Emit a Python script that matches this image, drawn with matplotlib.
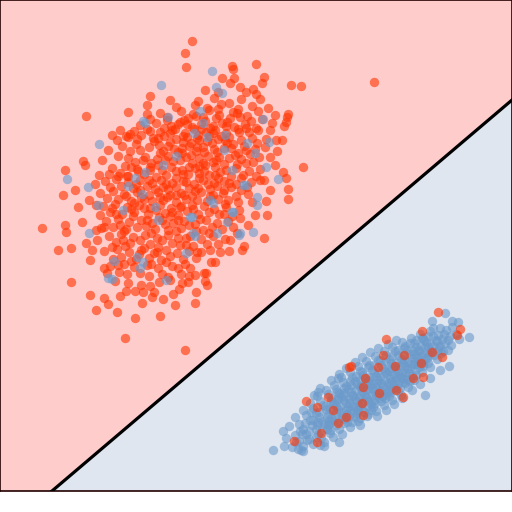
import matplotlib
matplotlib.use("Agg")
import matplotlib.pyplot as plt
import numpy as np

# ---------------- data (pixel-like units) ----------------
# class A (red) points lying in the upper-left cluster
red_cluster_red = [
    (192,41),(185,53),(186,67),(232,66),(233,69),(256,64),(222,78),(234,78),(230,83),(264,77),
    (262,83),(291,85),(301,86),(374,82),(218,92),(246,92),(253,89),(256,94),(260,99),(86,116),
    (128,112),(147,105),(268,108),(288,114),(287,117),(275,115),(272,123),(284,126),(286,122),
    (112,135),(126,136),(130,134),(65,170),(83,161),(85,165),(63,195),(95,184),(99,175),(118,176),
    (277,151),(266,139),(270,157),(283,172),(286,178),(288,189),(288,199),(89,200),(303,167),
    (42,228),(65,225),(66,232),(58,250),(71,248),(71,282),(90,295),(96,310),(104,298),(108,304),
    (125,338),(185,350),(195,303),(163,299),(152,297),(173,294),(120,296),(126,291),(150,286),
    (159,282),(168,277),(195,275),(206,273),(207,285),(205,281),(182,283),(181,274),(189,276),
    (86,243),(92,250),(90,260),(96,230),(101,228),(104,268),(107,273),(264,238),(267,215),
    (266,201),(244,246),(242,250),(229,251),(220,252),(210,250),(201,252),(204,273),
    (198,101),(214,98),(229,103),(241,99),
    (176,107),(195,105),(207,108),(221,104),(238,109),(252,106),
    (160,113),(181,111),(193,114),(209,110),(219,115),(233,112),(247,116),(258,111),
    (150,119),(167,117),(184,120),(196,116),(205,121),(216,118),(227,122),(240,117),(251,121),(262,119),
    (140,125),(156,123),(171,126),(180,122),(192,127),(201,124),(213,126),(222,123),(234,127),(245,124),(256,128),(175,129),
    (134,131),(147,129),(160,132),(172,130),(185,133),(194,129),(206,132),(215,130),(226,133),(238,129),(249,132),(258,130),(198,135),(221,136),
    (128,137),(141,135),(153,138),(164,136),(176,139),(187,137),(199,140),(209,136),(218,139),(229,137),(241,140),(252,138),(170,142),(191,143),(212,143),(233,144),
    (122,146),(136,144),(149,147),(159,145),(182,148),(203,147),(224,148),(244,146),(255,149),(265,147),(140,150),(163,151),(178,152),(196,151),(217,152),(238,153),(250,154),
    (118,156),(128,158),(145,157),(157,159),(168,156),(186,157),(199,158),(208,156),(229,158),(241,159),(259,157),(135,162),(151,163),(173,161),(192,163),(213,162),(224,164),(246,163),
    (112,168),(125,166),(137,169),(150,167),(162,170),(171,167),(182,170),(195,168),(204,171),(215,167),(226,170),(236,168),(249,171),(260,169),(120,173),(144,174),(166,175),(188,174),(209,175),(231,176),
    (105,181),(116,179),(128,182),(140,180),(152,183),(161,180),(172,183),(183,181),(194,184),(203,180),(214,183),(224,181),(236,184),(251,182),(264,180),(110,187),(133,188),(147,186),(168,189),(189,188),(210,189),(231,187),
    (100,193),(113,191),(124,194),(137,192),(149,195),(158,192),(170,195),(181,193),(192,196),(201,192),(213,195),(223,193),(236,196),(248,194),(118,199),(131,201),(144,199),(163,200),(176,202),(186,199),(207,201),(228,200),
    (103,206),(115,204),(127,207),(139,205),(150,208),(160,205),(171,208),(181,206),(193,209),(204,206),(214,209),(226,207),(239,210),(110,212),(122,214),(134,212),(148,214),(165,213),(178,215),(198,214),(219,214),(232,216),
    (106,221),(118,219),(129,222),(141,220),(152,223),(162,220),(173,223),(184,221),(195,224),(206,220),(217,223),(228,221),(113,227),(126,229),(137,227),(155,229),(168,230),(181,228),(203,230),(222,229),
    (109,236),(121,234),(133,237),(145,235),(157,238),(168,235),(178,238),(190,236),(201,239),(213,236),(225,239),(116,242),(130,243),(150,244),(172,243),(186,245),(207,244),
    (104,251),(117,249),(129,252),(141,250),(154,253),(166,250),(177,253),(189,251),(121,257),(136,259),(149,258),(161,260),(183,259),(196,258),
    (110,266),(124,264),(134,267),(147,265),(158,268),(172,266),(185,264),(119,272),(140,273),(162,274),
    (115,281),(128,283),(141,285),(135,291),(179,289),(196,292),
    (100,215),(97,240),(78,207),(82,222),(75,190),(102,160),(108,150),(117,140),(270,130),(275,165),
    (270,190),(255,215),(248,225),(276,140),(230,240),(215,262),(190,268),(154,292),(142,303),(117,312),
    (135,318),(160,316),(175,305),(211,262),(120,130),(150,96),(170,100),(240,87),(205,90),(282,140),
    (188,118),(203,117),(178,124),(164,128),(226,126),(239,132),(213,133),(183,136),(197,138),(168,146),
    (154,141),(189,146),(207,141),(227,143),(246,150),(174,149),(160,153),(191,155),(204,152),(219,157),
    (235,155),(130,151),(143,160),(165,160),(180,160),(203,163),(216,160),(237,164),(253,162),(131,167),
    (158,165),(176,171),(189,167),(199,173),(220,172),(243,175),(127,176),(136,184),(156,177),(176,178),
    (186,182),(199,178),(218,178),(241,178),(256,176),(121,186),(140,190),(155,189),(176,187),(198,188),
    (217,186),(224,190),(241,190),(107,198),(126,196),(141,197),(152,201),(167,197),(184,195),(197,200),
    (218,199),(238,202),(112,208),(131,209),(144,208),(156,210),(170,216),(187,211),(209,212),(224,214),
    (120,225),(133,216),(147,220),(159,217),(178,220),(189,225),(200,219),(212,227),(233,227),(124,231),
    (140,240),(151,233),(162,240),(176,231),(196,231),(209,233),(218,244),(112,247),(125,246),(144,248),
    (158,247),(170,256),(180,245),(193,246),(131,261),(151,264),(166,262),(178,268),(127,274),(149,276),
    (170,280),(113,259),(188,282),(143,292),
    (187,124),(210,128),(230,118),(246,128),(170,133),(150,131),(225,140),(197,147),(214,149),(182,153),
    (158,138),(137,139),(138,171),(149,180),(166,184),(183,174),(208,184),(229,183),(247,187),(195,191),
    (180,207),(160,197),(146,226),(165,224),(186,238),(197,252),(210,196),(225,204),(240,218),(134,203),
    (123,240),(139,254),(157,252),(172,212),(199,166),(215,175),(163,187),(150,170),(176,195),(192,205),
    (205,165),(231,148),(183,142),(167,120),(218,109),(201,129),(237,113),(147,114),(257,143),(260,180),
    (252,202),(237,233),(118,265),(128,176),(116,214),(104,227),(96,205),(109,174),
]

# class B (blue) points lying in the upper-left cluster
red_cluster_blue = [
    (212,71),(161,85),(216,87),(222,93),(263,119),(99,144),(67,179),(88,187),(269,142),(266,167),
    (278,179),(257,205),(98,205),(89,233),(114,261),(108,278),(112,279),(253,232),(239,235),
    (145,123),(194,133),(207,137),(225,135),(224,150),(247,143),(255,153),(163,165),(145,172),(135,178),
    (232,170),(246,185),(257,197),(210,200),(155,207),(158,220),(192,217),(232,212),(240,233),(193,233),
    (137,257),(123,210),(203,123),(143,121),(168,117),(200,111),(176,156),(213,203),(128,186),(142,194),
    (190,217),(195,236),(143,262),(140,268),(186,253),(166,280),(217,233),(227,222),(233,212),(243,185),
]

# class B (blue) points lying in the lower-right cluster
blue_cluster_blue = [
    (273,450),(283,431),(298,449),(301,450),(303,451),(324,446),(339,442),(314,395),(320,388),(318,392),
    (338,378),(445,313),(432,321),(452,321),(458,322),(469,337),(449,366),(425,395),
    (286,438),(292,447),(284,446),
    (289,426),(295,435),(299,441),(303,446),(300,431),
    (295,417),(299,424),(303,429),(306,434),(309,439),(313,444),(302,434),
    (303,410),(306,415),(310,420),(312,425),(316,429),(318,434),(321,438),(324,442),(317,425),
    (310,403),(313,408),(316,413),(319,417),(322,421),(324,424),(327,429),(330,433),(333,437),(318,422),(329,424),
    (317,396),(320,401),(323,405),(326,409),(328,414),(331,418),(333,421),(336,425),(339,429),(342,434),(330,409),(329,421),(338,421),
    (326,390),(328,394),(331,398),(334,403),(336,406),(338,409),(341,412),(343,416),(345,419),(347,422),(350,427),(337,400),(336,412),(347,414),
    (334,385),(336,389),(339,393),(341,397),(344,400),(346,403),(348,407),(350,410),(353,413),(355,417),(358,421),(360,425),(344,393),(346,410),(357,410),
    (341,377),(343,382),(346,386),(348,389),(351,392),(353,396),(355,399),(357,402),(359,406),(362,409),(364,412),(367,416),(349,399),(359,398),(358,410),(351,385),
    (350,372),(352,377),(355,381),(357,384),(360,387),(362,391),(364,394),(366,397),(368,401),(371,404),(373,407),(376,411),(361,386),(364,401),(375,403),(360,395),
    (358,366),(360,371),(363,375),(365,378),(368,381),(370,385),(372,388),(374,391),(376,395),(379,398),(381,401),(384,405),(369,380),(372,395),(383,396),(368,389),
    (366,361),(369,365),(372,370),(374,373),(376,376),(378,380),(381,383),(383,386),(385,389),(387,393),(389,396),(392,400),(378,373),(381,390),(391,392),(377,383),
    (375,356),(378,360),(381,365),(383,368),(385,371),(387,374),(390,378),(392,381),(394,384),(396,388),(398,391),(401,395),(389,371),(390,385),(398,384),
    (384,351),(386,355),(389,359),(391,363),(394,366),(396,369),(398,373),(400,376),(403,379),(405,383),(408,387),(396,363),(396,377),(407,379),
    (392,347),(395,351),(398,355),(401,359),(403,363),(405,366),(407,369),(409,373),(412,376),(414,380),(403,356),(405,373),(416,375),
    (402,342),(405,346),(407,350),(410,354),(412,358),(415,361),(417,364),(419,367),(422,372),(414,354),(412,364),(423,366),
    (411,338),(414,343),(416,347),(419,351),(422,355),(425,359),(428,363),(430,367),(421,346),(423,363),
    (420,334),(423,338),(426,342),(428,347),(431,351),(434,355),(437,359),(430,344),(429,355),
    (430,331),(433,336),(437,341),(440,346),(443,351),(438,335),(438,350),
    (440,328),(444,334),(448,340),(451,345),(450,336),
    (452,327),(456,334),(459,339),
    (333,404),(338,398),(343,395),(349,403),(352,395),(356,390),(360,380),(365,384),(366,389),(370,377),
    (373,383),(376,387),(380,377),(384,380),(386,372),(388,383),(392,368),(394,374),(396,380),(400,366),
    (402,372),(404,360),(408,362),(410,368),(413,351),(417,357),(418,350),(425,347),(427,352),(433,346),
    (436,340),(442,339),(445,343),(424,340),(419,362),(410,381),(400,388),(389,391),(382,396),(374,400),
    (368,406),(361,404),(355,407),(349,416),(342,418),(335,416),(328,425),(322,430),(316,437),(309,431),
    (313,420),(319,412),(325,406),(331,401),(337,392),(344,388),(350,381),(356,376),(362,372),(368,367),
    (374,365),(380,360),(386,362),(392,356),(398,350),(404,348),(410,343),(416,340),(422,338),(428,336),
    (433,328),(446,330),(448,350),(441,353),(427,358),(415,370),(403,382),(393,388),(385,398),(371,410),
    (357,413),(344,423),(330,430),(320,445),(307,440),(296,442),(305,423),(311,412),(327,417),(340,406),
    (353,406),(367,398),(379,392),(391,382),(402,378),(414,364),(421,356),(431,352),(439,347),
    (377,416),(368,414),(386,410),(394,404),(360,418),(352,422),(370,352),(378,348),(362,357),(355,362),
    (346,368),(339,374),(331,380),(402,398),(412,390),(420,384),(430,378),(440,370),(388,344),(396,340),
]

# class A (red) points lying in the lower-right cluster
blue_cluster_red = [
    (294,441),(317,442),(306,401),(351,366),(438,312),(460,329),(457,335),(386,339),(422,331),(442,357),
    (403,397),(432,352),(383,355),(404,355),(378,367),(365,378),(396,390),(379,393),(363,387),(333,410),
    (328,397),(317,407),(338,423),(321,433),(363,415),(421,363),(413,378),(423,377),(395,366),(362,403),
    (346,417),(349,367),
]

# decision boundary (two points on the line)
boundary_x = [52, 512]
boundary_y = [491, 100]

# ---------------- styling ----------------
RED = "#ff3300"
BLUE = "#6b9acb"
BG_RED = "#ffcccc"
BG_BLUE = "#dfe6f0"

fig = plt.figure(figsize=(5.12, 5.12), dpi=100)
ax = fig.add_axes([0, 21 / 512, 1, 491 / 512])
xmin, xmax, ymin, ymax = 0, 512, 0, 491
ax.set_xlim(xmin, xmax)
ax.set_ylim(ymax, ymin)

slope = (boundary_y[1] - boundary_y[0]) / (boundary_x[1] - boundary_x[0])
xs = np.array([xmin, xmax], dtype=float)
line_y = boundary_y[0] + slope * (xs - boundary_x[0])
ax.fill_between(xs, ymin - 100, line_y, color=BG_RED, zorder=0, linewidth=0)
ax.fill_between(xs, line_y, ymax + 100, color=BG_BLUE, zorder=0, linewidth=0)
ax.plot(xs, line_y, color="black", linewidth=2.3, zorder=5)

def scatter(points, color, z):
    px, py = zip(*points)
    ax.scatter(px, py, s=46, c=color, alpha=0.6, linewidths=0, zorder=z)

scatter(red_cluster_red, RED, 2)
scatter(red_cluster_blue, BLUE, 3)
scatter(blue_cluster_blue, BLUE, 2)
scatter(blue_cluster_red, RED, 3)

ax.set_xticks([])
ax.set_yticks([])
for sp in ax.spines.values():
    sp.set_color("#220000")
    sp.set_linewidth(1.2)

fig.savefig("out.png", dpi=100)
